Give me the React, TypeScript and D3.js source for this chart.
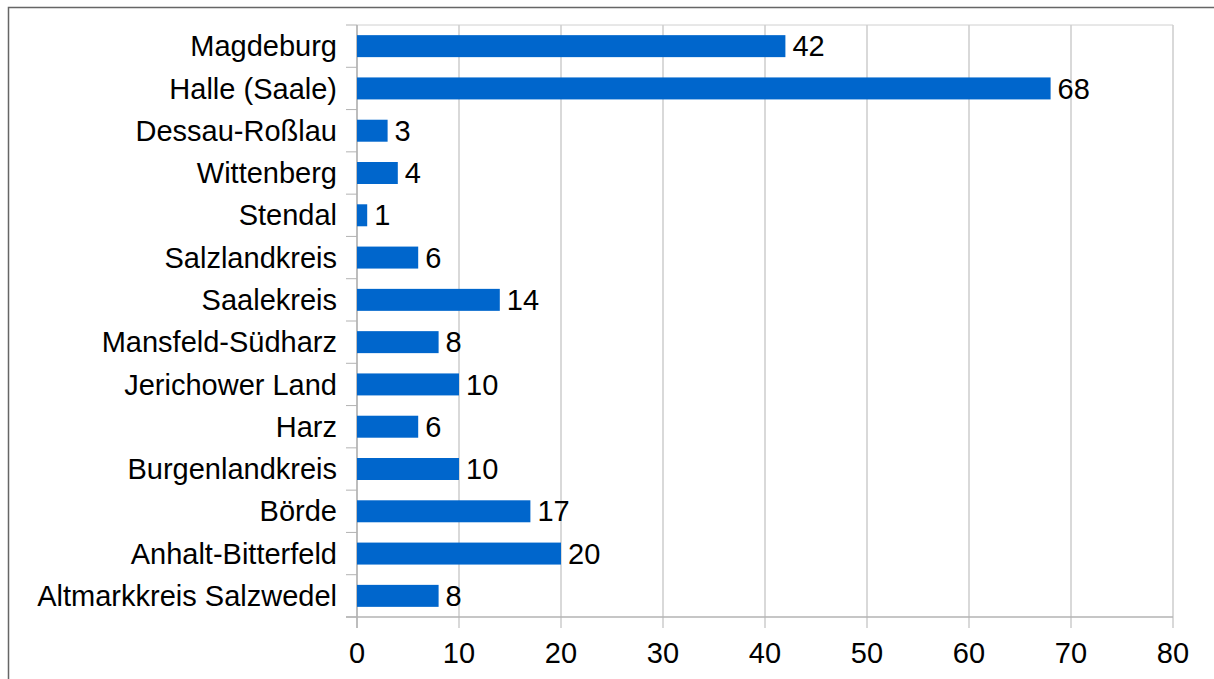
import React from "react";
import * as d3 from "d3";

const categories = [
  "Magdeburg",
  "Halle (Saale)",
  "Dessau-Roßlau",
  "Wittenberg",
  "Stendal",
  "Salzlandkreis",
  "Saalekreis",
  "Mansfeld-Südharz",
  "Jerichower Land",
  "Harz",
  "Burgenlandkreis",
  "Börde",
  "Anhalt-Bitterfeld",
  "Altmarkkreis Salzwedel",
];
const values = [42, 68, 3, 4, 1, 6, 14, 8, 10, 6, 10, 17, 20, 8];
const xTicks = [0, 10, 20, 30, 40, 50, 60, 70, 80];

export default function App() {
  const W = 1214, H = 679;
  const left = 357, right = 1173, top = 25, bottom = 617;
  const x = d3.scaleLinear().domain([0, 80]).range([left, right]);
  const y = d3.scaleBand().domain(categories).range([top, bottom]).paddingInner(0.48).paddingOuter(0.24);
  const band = (bottom - top) / categories.length;
  const font = "'Liberation Sans', Arial, sans-serif";
  const fs = 29;
  const grid = "#b3b3b3";
  return (
    <svg width={W} height={H} style={{ position: "absolute", left: 0, top: 0 }} fontFamily={font}>
      <rect x={0} y={0} width={W} height={H} fill="#fff" />
      <rect x={8.5} y={7.5} width={W + 20} height={H + 20} fill="none" stroke="#666" strokeWidth={1.5} />
      {xTicks.map((t) => (
        <line key={"g" + t} x1={x(t)} x2={x(t)} y1={top} y2={bottom + 11} stroke={grid} strokeWidth={1} />
      ))}
      {d3.range(categories.length + 1).map((i) => (
        <line key={"c" + i} x1={left - 11} x2={left} y1={top + i * band} y2={top + i * band} stroke={grid} strokeWidth={1} />
      ))}
      <line x1={left} x2={right} y1={top} y2={top} stroke="#d0d0d0" strokeWidth={1} />
      <line x1={left - 11} x2={right} y1={bottom} y2={bottom} stroke={grid} strokeWidth={1.5} />
      <line x1={left} x2={left} y1={top} y2={bottom + 11} stroke={grid} strokeWidth={1.5} />
      {categories.map((c, i) => (
        <g key={c}>
          <rect x={x(0)} y={y(c)} width={x(values[i]) - x(0)} height={y.bandwidth()} fill="#0066cc" />
          <text x={x(values[i]) + 7} y={(y(c) as number) + y.bandwidth() / 2} dy="0.35em" fontSize={fs} fill="#000">
            {values[i]}
          </text>
          <text x={337} y={(y(c) as number) + y.bandwidth() / 2} dy="0.35em" fontSize={fs} textAnchor="end" fill="#000">
            {c}
          </text>
        </g>
      ))}
      {xTicks.map((t) => (
        <text key={"t" + t} x={x(t)} y={663} fontSize={fs} textAnchor="middle" fill="#000">
          {t}
        </text>
      ))}
    </svg>
  );
}
